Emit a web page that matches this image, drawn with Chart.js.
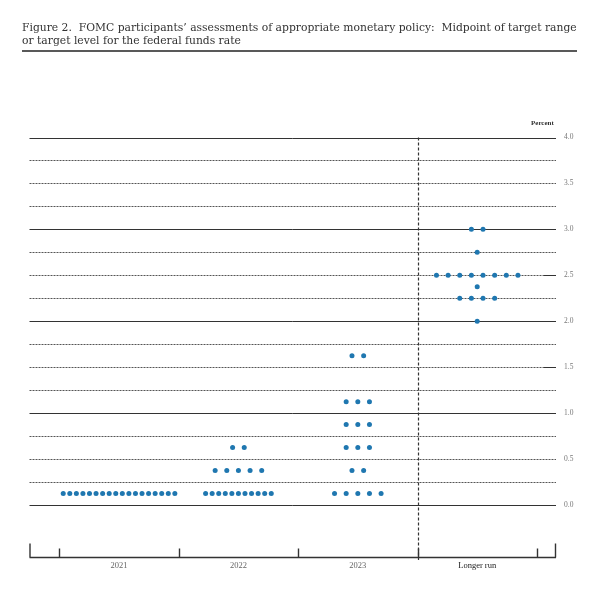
<!DOCTYPE html>
<html>
<head>
<meta charset="utf-8">
<script src="https://cdn.jsdelivr.net/npm/chart.js@4"></script>
<style>
  html, body { margin: 0; padding: 0; background: #fff; }
  #wrap { width: 600px; height: 596px; }
</style>
</head>
<body>
<div id="wrap"><canvas id="dots"></canvas></div>
<script>
// columns and the rates (midpoints) with how many participants chose each
const periods = ['2021', '2022', '2023', 'Longer run'];

const levels2021 = [0.125];
const counts2021 = [18];

const levels2022 = [0.125, 0.375, 0.625];
const counts2022 = [11, 5, 2];

const levels2023 = [0.125, 0.375, 0.625, 0.875, 1.125, 1.625];
const counts2023 = [5, 2, 3, 3, 3, 2];

const levelsLonger = [2.0, 2.25, 2.375, 2.5, 2.75, 3.0];
const countsLonger = [1, 4, 1, 8, 1, 2];

const yTicks = [0, 0.5, 1, 1.5, 2, 2.5, 3, 3.5, 4];

const titleLines = [
  'Figure 2.  FOMC participants\u2019 assessments of appropriate monetary policy:  Midpoint of target range',
  'or target level for the federal funds rate'
];

const dotColor = '#1f77b0';
const serif = '"Liberation Serif", "DejaVu Serif", serif';
const titleFont = '"DejaVu Serif", "Liberation Serif", serif';

// spread the dots of one rate sideways around the column centre
function rowPoints(col, levels, counts) {
  const pts = [];
  levels.forEach((lv, k) => {
    const n = counts[k];
    const step = n > 8 ? 0.055 : 0.0975;
    for (let j = 0; j < n; j++) {
      pts.push({ x: col + (j - (n - 1) / 2) * step, y: lv });
    }
  });
  return pts;
}

const points = [
  ...rowPoints(0, levels2021, counts2021),
  ...rowPoints(1, levels2022, counts2022),
  ...rowPoints(2, levels2023, counts2023),
  ...rowPoints(3, levelsLonger, countsLonger)
];

// title, rule, grid lines, divider and the bottom axis ticks
const decor = {
  id: 'decor',
  beforeDatasetsDraw(chart) {
    const ctx = chart.ctx;
    const xs = chart.scales.x, ys = chart.scales.y;
    const ca = chart.chartArea;
    ctx.save();

    // title
    ctx.fillStyle = '#333';
    let size = 11;
    ctx.font = size + 'px ' + titleFont;
    const w = ctx.measureText(titleLines[0]).width;
    size = size * 555 / w;
    ctx.font = size + 'px ' + titleFont;
    ctx.textBaseline = 'alphabetic';
    ctx.textAlign = 'left';
    ctx.fillText(titleLines[0], 22, 30.5);
    ctx.fillText(titleLines[1], 22, 43.5);

    ctx.strokeStyle = '#222';
    ctx.lineWidth = 1.4;
    ctx.beginPath();
    ctx.moveTo(22, 51);
    ctx.lineTo(577, 51);
    ctx.stroke();

    // "Percent"
    ctx.font = 'bold 7px ' + serif;
    ctx.fillStyle = '#333';
    ctx.fillText('Percent', 531, 125);

    // horizontal grid at every quarter point
    for (let v = 0; v <= 4.001; v += 0.25) {
      const y = Math.round(ys.getPixelForValue(v)) + 0.5;
      const solid = Math.abs(v - Math.round(v)) < 1e-6;
      ctx.beginPath();
      ctx.lineWidth = 1;
      ctx.strokeStyle = solid ? '#333' : '#555';
      ctx.setLineDash(solid ? [] : [2, 1]);
      ctx.moveTo(ca.left, y);
      ctx.lineTo(ca.right, y);
      ctx.stroke();
    }
    ctx.setLineDash([]);
    // small solid stubs near the right end
    [1.5, 2.5].forEach(v => {
      const y = Math.round(ys.getPixelForValue(v)) + 0.5;
      ctx.strokeStyle = '#333';
      ctx.beginPath();
      ctx.moveTo(ca.right - 12, y);
      ctx.lineTo(ca.right, y);
      ctx.stroke();
    });

    // dashed divider before "Longer run"
    const xd = Math.round(xs.getPixelForValue(2.5)) + 0.5;
    ctx.strokeStyle = '#333';
    ctx.lineWidth = 1.2;
    ctx.setLineDash([3, 2]);
    ctx.beginPath();
    ctx.moveTo(xd, ys.getPixelForValue(4));
    ctx.lineTo(xd, ca.bottom + 3);
    ctx.stroke();
    ctx.setLineDash([]);

    // bottom axis line and ticks
    const yb = ca.bottom + 0.5;
    ctx.lineWidth = 1.4;
    ctx.strokeStyle = '#333';
    ctx.beginPath();
    ctx.moveTo(ca.left, yb);
    ctx.lineTo(ca.right, yb);
    [-0.5, 0.5, 1.5, 2.5, 3.5].forEach(v => {
      const x = Math.round(xs.getPixelForValue(v)) + 0.5;
      ctx.moveTo(x, yb);
      ctx.lineTo(x, yb - 9);
    });
    ctx.moveTo(ca.left + 0.5, yb);
    ctx.lineTo(ca.left + 0.5, yb - 14);
    ctx.moveTo(ca.right - 0.5, yb);
    ctx.lineTo(ca.right - 0.5, yb - 14);
    ctx.stroke();

    ctx.restore();
  }
};

new Chart(document.getElementById('dots'), {
  type: 'scatter',
  data: {
    datasets: [{
      data: points,
      backgroundColor: dotColor,
      borderColor: dotColor,
      borderWidth: 0,
      pointRadius: 2.5
    }]
  },
  options: {
    responsive: true,
    maintainAspectRatio: false,
    animation: false,
    layout: { padding: { top: 137.5, left: 29.5, right: 0, bottom: 0 } },
    plugins: {
      legend: { display: false },
      tooltip: { enabled: false }
    },
    scales: {
      x: {
        type: 'linear',
        min: -0.75,
        max: 3.66,
        grid: { display: false, drawTicks: false },
        border: { display: false },
        afterFit: (s) => { s.height = 39; },
        afterBuildTicks: (s) => { s.ticks = periods.map((p, i) => ({ value: i })); },
        ticks: {
          padding: 4,
          maxRotation: 0,
          autoSkip: false,
          color: (c) => (c.index === 3 ? '#1a1a1a' : '#666'),
          font: { family: serif, size: 8.5 },
          callback: (v) => periods[v]
        }
      },
      y: {
        type: 'linear',
        position: 'right',
        min: -0.566,
        max: 4,
        grid: { display: false, drawTicks: false },
        border: { display: false },
        afterFit: (s) => { s.width = 44; },
        afterBuildTicks: (s) => { s.ticks = yTicks.map(v => ({ value: v })); },
        ticks: {
          padding: 8,
          color: '#777',
          font: { family: serif, size: 7.5 },
          callback: (v) => Number(v).toFixed(1)
        }
      }
    }
  },
  plugins: [decor]
});
</script>
</body>
</html>
